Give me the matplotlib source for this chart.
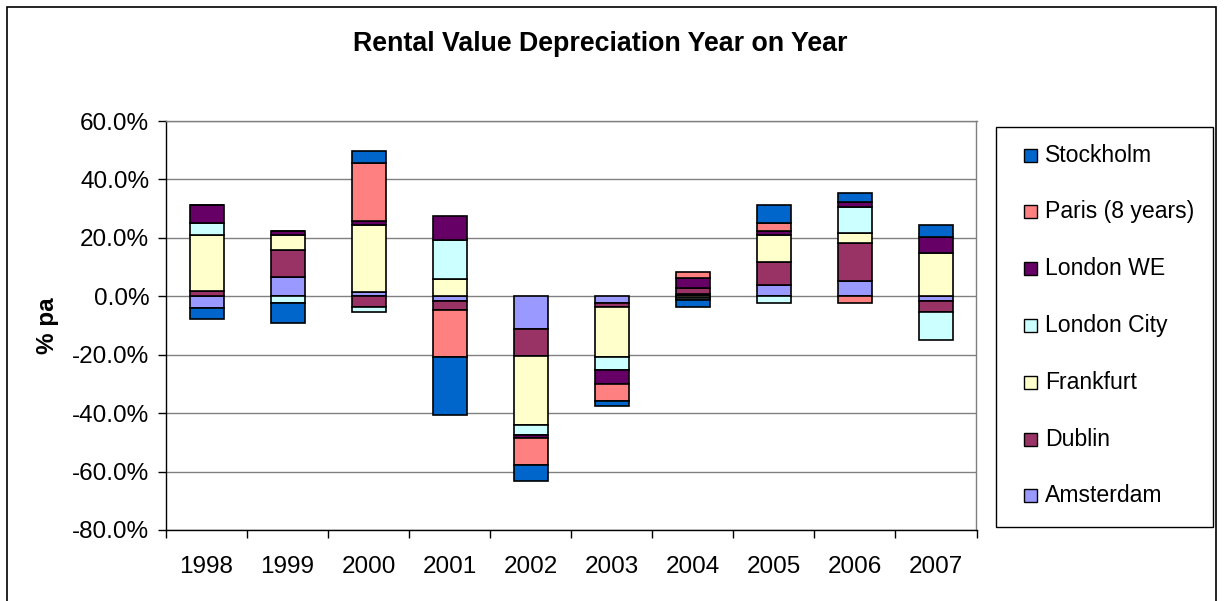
import matplotlib
matplotlib.use("Agg")
import matplotlib.pyplot as plt
import numpy as np
from matplotlib.patches import Rectangle

plt.rcParams['font.family'] = ['Liberation Sans', 'DejaVu Sans']

years = ["1998", "1999", "2000", "2001", "2002", "2003", "2004", "2005", "2006", "2007"]
# stacking order from zero outward (Excel series order)
series_names = ["Amsterdam", "Dublin", "Frankfurt", "London City", "London WE", "Paris (8 years)", "Stockholm"]
amsterdam = [-4.1, 6.7, 1.5, -1.6, -11.3, -2.4, 0.8, 3.7, 5.2, -1.7]
dublin    = [1.8, 9.1, -3.5, -3.1, -9.1, -1.1, 2.0, 8.2, 12.9, -3.6]
frankfurt = [19.1, 5.2, 23.0, 6.0, -23.8, -17.4, -0.5, 9.0, 3.4, 14.9]
london_city = [4.2, -2.4, -1.8, 13.2, -3.4, -4.2, -0.7, -2.4, 8.9, -9.6]
london_we = [6.0, 1.3, 1.4, 8.4, -0.9, -4.9, 3.3, 1.4, 1.9, 5.5]
paris     = [0.0, 0.0, 19.7, -16.1, -9.4, -5.8, 2.3, 2.8, -2.4, 0.0]
stockholm = [-3.6, -6.6, 4.2, -19.8, -5.3, -1.8, -2.3, 6.0, 3.2, 4.1]

series_values = [amsterdam, dublin, frankfurt, london_city, london_we, paris, stockholm]
colors = ["#9999FF", "#993366", "#FFFFCC", "#CCFFFF", "#660066", "#FF8080", "#0066CC"]

W, H = 1224, 601
fig = plt.figure(figsize=(W / 100, H / 100), dpi=100)
fig.patch.set_facecolor("white")

# outer chart border
fig.add_artist(Rectangle((7 / W, -0.05), (1216 - 7) / W, 1.05 - 7 / H,
                         transform=fig.transFigure, fill=False, edgecolor="black", lw=1.2))

ax = fig.add_axes([166 / W, (H - 530) / H, (976.5 - 166) / W, (530 - 121) / H])
x = np.arange(len(years))
pos_base = np.zeros(len(years))
neg_base = np.zeros(len(years))
for name, vals, c in zip(series_names, series_values, colors):
    v = np.array(vals, dtype=float)
    bottoms = np.where(v >= 0, pos_base, neg_base)
    ax.bar(x, v, bottom=bottoms, width=0.42, color=c, edgecolor="black", linewidth=1.2, zorder=3)
    pos_base = pos_base + np.where(v >= 0, v, 0)
    neg_base = neg_base + np.where(v < 0, v, 0)

ax.set_xlim(-0.5, len(years) - 0.5)
ax.set_ylim(-80, 60)
yt = np.arange(-80, 61, 20)
ax.set_yticks(yt)
ax.set_yticklabels([f"{t:.1f}%" for t in yt])
ax.yaxis.grid(True, color="#808080", lw=1.0, zorder=0)
ax.set_xticks(x)
ax.set_xticklabels(years)
ax.set_xticks(np.arange(-0.5, len(years)), minor=True)
ax.tick_params(axis="x", which="major", length=0, pad=19, labelsize=17.5)
ax.tick_params(axis="x", which="minor", length=6, width=1, direction="out")
ax.tick_params(axis="y", length=6, width=1, direction="out", pad=6, labelsize=17.5)
for s in ["top", "right"]:
    ax.spines[s].set_color("#808080")
for s in ["left", "bottom"]:
    ax.spines[s].set_color("black")
for s in ax.spines.values():
    s.set_linewidth(1.0)
ax.set_ylabel("% pa", fontsize=17.5, fontweight="bold")
ax.yaxis.set_label_coords(-0.132, 0.5)

fig.text(600 / W, 1 - 44 / H, "Rental Value Depreciation Year on Year",
         ha="center", va="center", fontsize=19.3, fontweight="bold")

# legend (manual, Excel style)
fig.add_artist(Rectangle((996 / W, (H - 527) / H), (1213 - 996) / W, (527 - 127) / H,
                         transform=fig.transFigure, fill=True, facecolor="white",
                         edgecolor="black", lw=1.0))
legend_order = list(range(len(series_names)))[::-1]
for i, idx in enumerate(legend_order):
    yc = 155 + i * 56.8
    fig.add_artist(Rectangle((1024 / W, (H - yc - 6.5) / H), 13 / W, 13 / H,
                             transform=fig.transFigure, facecolor=colors[idx],
                             edgecolor="black", lw=1.0))
    fig.text(1045 / W, 1 - yc / H, series_names[idx], ha="left", va="center", fontsize=16.6)

fig.savefig("out.png", dpi=100)
